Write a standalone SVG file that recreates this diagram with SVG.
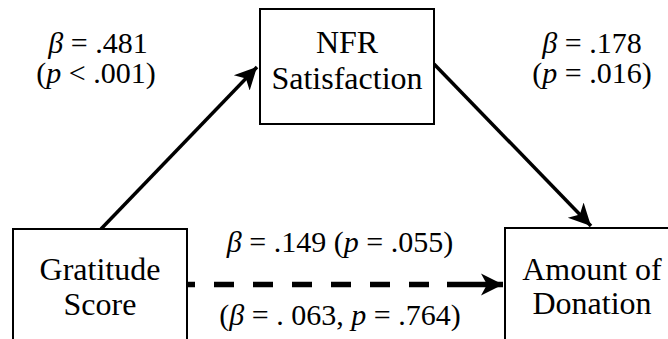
<svg xmlns="http://www.w3.org/2000/svg" width="668" height="339" viewBox="0 0 668 339">
<defs>
<marker id="ah" markerUnits="userSpaceOnUse" viewBox="0 0 24 24" markerWidth="24" markerHeight="24" refX="22" refY="12" orient="auto">
<path d="M0,1 L22,12 L0,23 L6,12 z" fill="#000"/>
</marker>
</defs>
<rect width="668" height="339" fill="#fff"/>
<g id="connectors" fill="none" stroke="#000">
<line stroke-width="3.5" x1="101" y1="229" x2="257" y2="67" marker-end="url(#ah)"/>
<line stroke-width="3.5" x1="434" y1="64" x2="591" y2="226" marker-end="url(#ah)"/>
<line stroke-width="5.5" x1="187" y1="284.5" x2="440" y2="284.5" stroke-dasharray="20 19" stroke-dashoffset="12"/>
<line stroke-width="5.5" x1="447" y1="284.5" x2="503" y2="284.5" marker-end="url(#ah)"/>
</g>
<g font-family="Liberation Serif, Times New Roman, serif" fill="#000">
<g id="nfr">
<rect x="260" y="9" width="174" height="115" fill="#fff" stroke="#000" stroke-width="2"/>
<text x="347" y="53" font-size="32" text-anchor="middle">NFR</text>
<text x="347" y="89" font-size="32" text-anchor="middle">Satisfaction</text>
</g>
<g id="gratitude">
<rect x="13" y="229" width="174" height="150" fill="#fff" stroke="#000" stroke-width="2"/>
<text x="100" y="280" font-size="32" text-anchor="middle">Gratitude</text>
<text x="100" y="315" font-size="32" text-anchor="middle">Score</text>
</g>
<g id="donation">
<rect x="505" y="228" width="220" height="150" fill="#fff" stroke="#000" stroke-width="2"/>
<text x="592" y="280" font-size="32" text-anchor="middle">Amount of</text>
<text x="592" y="314" font-size="32" text-anchor="middle">Donation</text>
</g>
<g id="labels" font-size="30" text-anchor="middle">
<text x="98" y="53"><tspan font-style="italic">β</tspan> = .481</text>
<text x="96" y="83">(<tspan font-style="italic">p</tspan> &lt; .001)</text>
<text x="592" y="53"><tspan font-style="italic">β</tspan> = .178</text>
<text x="592" y="83">(<tspan font-style="italic">p</tspan> = .016)</text>
<text x="340" y="252"><tspan font-style="italic">β</tspan> = .149 (<tspan font-style="italic">p</tspan> = .055)</text>
<text x="340" y="325">(<tspan font-style="italic">β</tspan> = . 063, <tspan font-style="italic">p</tspan> = .764)</text>
</g>
</g>
</svg>
